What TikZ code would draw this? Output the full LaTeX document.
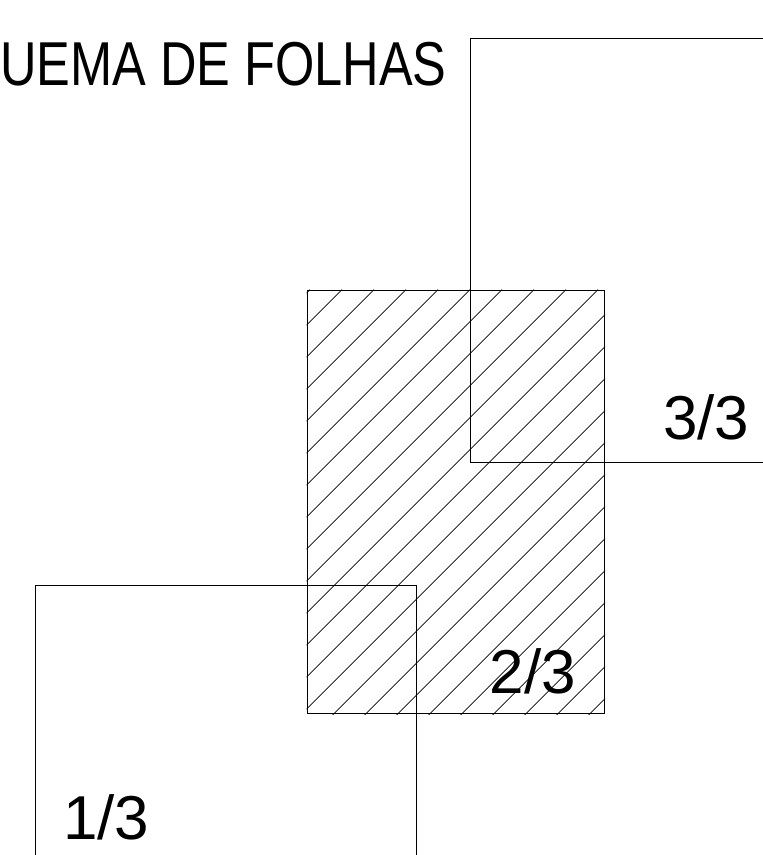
\documentclass[tikz,border=0pt]{standalone}
\usepackage{fontspec}
\setmainfont{Liberation Sans}
\usetikzlibrary{calc}

\begin{document}
\begin{tikzpicture}[x=1pt, y=-1pt,
    sheet/.style={rectangle, draw, line width=1pt, inner sep=0pt, minimum width=#1, minimum height=423.7pt, anchor=north west},
    hatch/.style={line width=0.7pt},
    sheetlabel/.style={anchor=base west, inner sep=0pt, font=\fontsize{62}{62}\selectfont}
]
\useasboundingbox (0,0) rectangle (763,855);
\clip (0,0) rectangle (763,855);

% Title
\node[sheetlabel, xscale=0.815] (title) at (0, 85) {UEMA DE FOLHAS};

% Sheet 2/3 (hatched)
\node[sheet=297.5pt] (sheet2) at (306.5, 289.5) {};
\begin{scope}
  \clip (sheet2.north west) rectangle (sheet2.south east);
  \foreach \k in {0,...,22}
    \draw[hatch] ($(sheet2.north west)+(3.5+32*\k,0)$) -- ++(-500,500);
\end{scope}

% Sheets 1/3 and 3/3
\node[sheet=381pt] (sheet3) at (470, 38) {};
\node[sheet=381pt] (sheet1) at (35.3, 585.3) {};

% Sheet numbers
\node[sheetlabel] (num3) at (663, 439) {3/3};
\node[sheetlabel] (num2) at (489.5, 693.3) {2/3};
\node[sheetlabel] (num1) at (63, 839.3) {1/3};

\end{tikzpicture}
\end{document}
